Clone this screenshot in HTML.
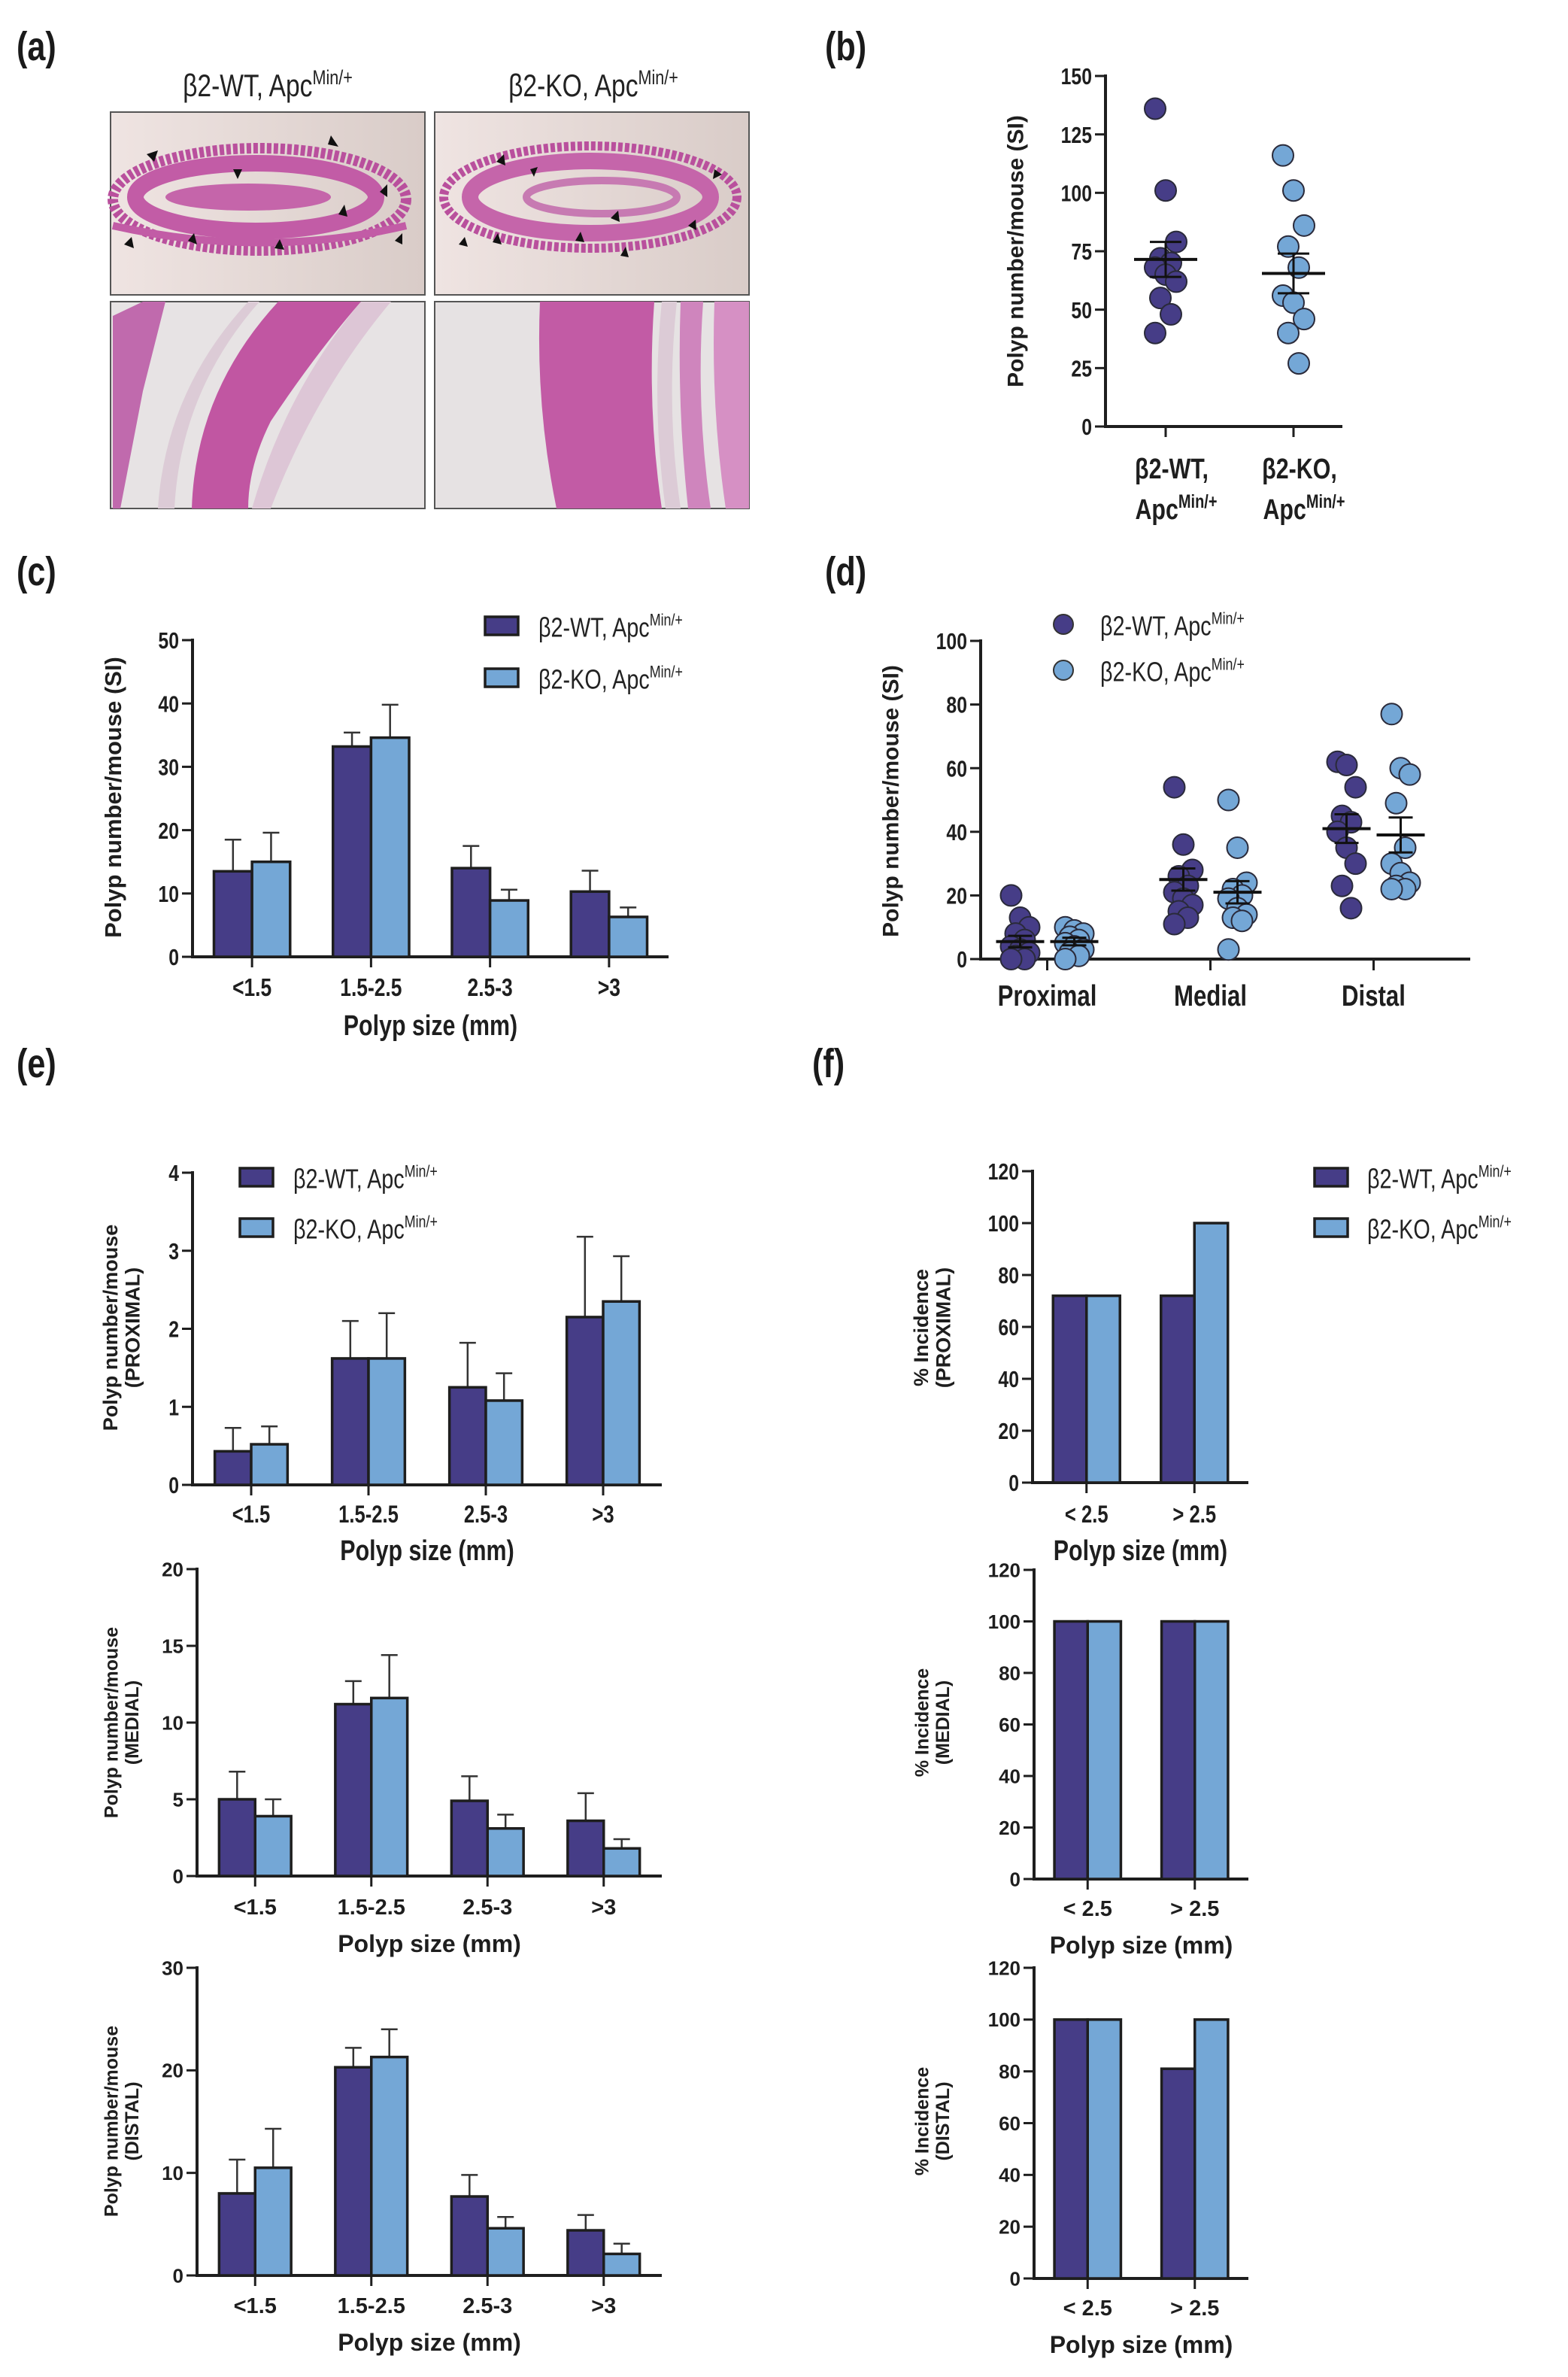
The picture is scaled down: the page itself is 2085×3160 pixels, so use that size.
<!DOCTYPE html>
<html><head><meta charset="utf-8"><title>Polyp figure</title>
<style>
html,body{margin:0;padding:0;background:#fff;}
svg{display:block;}
.n{font-family:"Liberation Sans Narrow","Liberation Sans",sans-serif;}
.w{font-family:"Liberation Sans",sans-serif;}
</style></head>
<body>
<svg id="fig" xmlns="http://www.w3.org/2000/svg" width="2085" height="3160" viewBox="0 0 2085 3160">
<defs>
<linearGradient id="bgTop" x1="0" y1="0" x2="1" y2="0"><stop offset="0" stop-color="#efe4e2"/><stop offset="1" stop-color="#d9ccc8"/></linearGradient>
</defs>
<g class="n" font-weight="bold" font-size="54" fill="#1a1a1a">
<text class="n" x="22" y="80">(a)</text>
<text class="n" x="1097" y="80">(b)</text>
<text class="n" x="22" y="778">(c)</text>
<text class="n" x="1097" y="778">(d)</text>
<text class="n" x="22" y="1432">(e)</text>
<text class="n" x="1080" y="1432">(f)</text>
</g>
<g>
<text class="n" x="356" y="128" font-size="42" text-anchor="middle" fill="#222">β2-WT, Apc<tspan dy="-16" font-size="27">Min/+</tspan></text>
<text class="n" x="789" y="128" font-size="42" text-anchor="middle" fill="#222">β2-KO, Apc<tspan dy="-16" font-size="27">Min/+</tspan></text>
<g>
<rect x="147" y="149" width="418" height="243" fill="url(#bgTop)" stroke="#555" stroke-width="2"/>
<ellipse cx="345" cy="265" rx="195" ry="68" fill="none" stroke="#b9509d" stroke-width="14" stroke-dasharray="6 3"/>
<ellipse cx="340" cy="262" rx="160" ry="45" fill="none" stroke="#c25ca6" stroke-width="22"/>
<ellipse cx="330" cy="262" rx="110" ry="18" fill="#c565aa"/>
<path d="M150 300 Q350 345 540 300" fill="none" stroke="#c25ca6" stroke-width="10"/>
<g fill="#111"><polygon points="195,205 210,200 205,215"/><polygon points="310,225 322,225 316,238"/><polygon points="440,180 450,195 436,192"/><polygon points="505,255 515,245 515,262"/><polygon points="450,285 458,272 462,288"/><polygon points="525,320 535,310 535,325"/><polygon points="165,325 175,315 178,330"/><polygon points="250,320 258,310 262,325"/><polygon points="365,330 372,318 378,332"/></g>
</g>
<g>
<rect x="578" y="149" width="418" height="243" fill="url(#bgTop)" stroke="#555" stroke-width="2"/>
<ellipse cx="785" cy="262" rx="195" ry="68" fill="none" stroke="#b9509d" stroke-width="12" stroke-dasharray="6 3"/>
<ellipse cx="785" cy="262" rx="160" ry="48" fill="none" stroke="#c565aa" stroke-width="22"/>
<ellipse cx="800" cy="262" rx="100" ry="22" fill="none" stroke="#c77ab2" stroke-width="10"/>
<g fill="#111"><polygon points="660,215 670,205 672,220"/><polygon points="705,225 715,222 710,235"/><polygon points="950,225 960,232 948,238"/><polygon points="812,290 822,280 824,295"/><polygon points="915,300 925,292 926,306"/><polygon points="610,325 618,315 622,328"/><polygon points="655,322 662,310 667,325"/><polygon points="765,320 772,308 777,322"/><polygon points="825,340 832,328 836,342"/></g>
</g>
<g>
<rect x="147" y="401" width="418" height="275" fill="#e7e3e4" stroke="#555" stroke-width="2"/>
<path d="M150 420 L190 401 L220 401 L190 520 L160 676 L150 676 Z" fill="#c06aad"/>
<path d="M255 676 Q260 520 370 401 L480 401 Q420 470 360 560 Q330 620 330 676 Z" fill="#c156a2"/>
<path d="M480 401 L520 401 Q420 520 360 676 L335 676 Q380 520 480 401 Z" fill="#ddc6d6"/>
<path d="M210 676 Q220 520 330 401 L345 401 Q240 520 232 676 Z" fill="#dccbd6"/>
</g>
<g>
<rect x="578" y="401" width="418" height="275" fill="#e6e2e3" stroke="#555" stroke-width="2"/>
<path d="M718 401 L870 401 Q860 540 880 676 L740 676 Q712 540 718 401 Z" fill="#c25ba5"/>
<path d="M880 401 L900 401 Q885 540 905 676 L885 676 Q866 540 880 401 Z" fill="#dccbd6"/>
<path d="M905 401 L935 401 Q925 540 945 676 L915 676 Q900 540 905 401 Z" fill="#cf85bd"/>
<path d="M950 401 L996 401 L996 676 L965 676 Q945 540 950 401 Z" fill="#d690c4"/>
</g>
</g>
<g id="charts"></g>
</svg>
<script>
// ---------- DATA ----------
var groupNames = ["β2-WT, Apc", "β2-KO, Apc"];
// (b)
var bWT = [136, 101, 79, 72, 70, 68, 65, 62, 55, 48, 40];
var bKO = [116, 101, 86, 77, 68, 56, 53, 46, 40, 27];
var bMean = [71.5, 65.5];
var bSem = [7.5, 8.5];
var bTicks = [0, 25, 50, 75, 100, 125, 150];
// (c)
var sizeCats = ["<1.5", "1.5-2.5", "2.5-3", ">3"];
var cWT = [13.5, 33.2, 14.0, 10.3];
var cWTerr = [5.0, 2.2, 3.5, 3.3];
var cKO = [15.0, 34.6, 8.9, 6.3];
var cKOerr = [4.6, 5.2, 1.7, 1.5];
var cTicks = [0, 10, 20, 30, 40, 50];
// (d)
var regionCats = ["Proximal", "Medial", "Distal"];
var dWTprox = [20, 13, 10, 8, 6, 4, 3, 2, 1, 0, 0];
var dWTmed = [54, 36, 28, 26, 23, 21, 19, 17, 15, 13, 11];
var dWTdist = [62, 61, 54, 45, 43, 40, 35, 30, 23, 16];
var dKOprox = [10, 9, 8, 7, 6, 5, 4, 3, 2, 1, 0];
var dKOmed = [50, 35, 24, 22, 20, 19, 16, 14, 13, 12, 3];
var dKOdist = [77, 60, 58, 49, 35, 30, 27, 24, 23, 22, 22];
var dWTmean = [5.5, 25, 41];
var dWTsem = [1.8, 3.5, 4.5];
var dKOmean = [5.5, 21, 39];
var dKOsem = [1.2, 3.5, 5.5];
var dTicks = [0, 20, 40, 60, 80, 100];
// (e)
var eProxWT = [0.43, 1.62, 1.25, 2.15];
var eProxWTerr = [0.30, 0.48, 0.57, 1.03];
var eProxKO = [0.52, 1.62, 1.08, 2.35];
var eProxKOerr = [0.23, 0.58, 0.35, 0.58];
var eProxTicks = [0, 1, 2, 3, 4];
var eMedWT = [5.0, 11.2, 4.9, 3.6];
var eMedWTerr = [1.8, 1.5, 1.6, 1.8];
var eMedKO = [3.9, 11.6, 3.1, 1.8];
var eMedKOerr = [1.1, 2.8, 0.9, 0.6];
var eMedTicks = [0, 5, 10, 15, 20];
var eDistWT = [8.0, 20.3, 7.7, 4.4];
var eDistWTerr = [3.3, 1.9, 2.1, 1.5];
var eDistKO = [10.5, 21.3, 4.6, 2.1];
var eDistKOerr = [3.8, 2.7, 1.1, 1.0];
var eDistTicks = [0, 10, 20, 30];
// (f)
var incCats = ["< 2.5", "> 2.5"];
var fProxWT = [72, 72];
var fProxKO = [72, 100];
var fMedWT = [100, 100];
var fMedKO = [100, 100];
var fDistWT = [100, 81];
var fDistKO = [100, 100];
var fTicks = [0, 20, 40, 60, 80, 100, 120];

// ---------- DRAW ----------
var NS = "http://www.w3.org/2000/svg";
var WT = "#463d87", KO = "#74a7d6", INK = "#1e1e1e";
var root = document.getElementById("charts");
function mk(tag, attrs, parent) {
  var e = document.createElementNS(NS, tag);
  for (var k in attrs) e.setAttribute(k, attrs[k]);
  (parent || root).appendChild(e);
  return e;
}
function linY(min, max, y0, y1) { return function (v) { return y0 + (v - min) / (max - min) * (y1 - y0); }; }

function axes(g, o, ticks, yS) {
  var yax = mk("line", {x1: o.x0, y1: yS(ticks[ticks.length - 1]) - 2, x2: o.x0, y2: yS(0), stroke: INK, "stroke-width": 4}, g);
  
  
  var xax = mk("line", {x1: o.x0 - 2, y1: yS(0), x2: o.x1, y2: yS(0), stroke: INK, "stroke-width": 4}, g);
  
  
  ticks.forEach(function (t) {
    var y = yS(t);
    mk("line", {x1: o.x0 - 14, y1: y, x2: o.x0, y2: y, stroke: INK, "stroke-width": 3}, g);
    var tl = mk("text", {x: o.x0 - 18, y: y + o.tf * 0.36, "text-anchor": "end", "font-size": o.tf, "font-weight": "bold", fill: INK, "class": o.fc}, g);
    
    
    tl.textContent = t;
  });
  var yl = mk("text", {"text-anchor": "middle", "font-size": o.lf, "font-weight": "bold", fill: INK, "class": "w",
    transform: "rotate(-90 " + o.ylx + " " + o.yly + ")", x: o.ylx, y: o.yly}, g);
  
  
  o.ylab.forEach(function (line, i) {
    var ts = mk("tspan", {x: o.ylx, dy: i === 0 ? (o.ylab.length > 1 ? -o.lf * 0.15 : o.lf * 0.35) : o.lf * 1.1}, yl);
    ts.textContent = line;
  });
}

function barChart(name, o, cats, wt, wtErr, ko, koErr, ticks) {
  var g = mk("g", {});
  
  
  var yS = linY(0, ticks[ticks.length - 1], o.yb, o.yt);
  var band = (o.x1 - o.x0) / cats.length;
  var bw = band * o.bwf;
  axes(g, o, ticks, yS);
  cats.forEach(function (c, i) {
    var cx = o.x0 + band * (i + 0.5);
    [[wt, wtErr, WT, cx - bw, 'bar-wt-'], [ko, koErr, KO, cx, 'bar-ko-']].forEach(function (s) {
      var v = s[0][i];
      if (s[1]) {
        var top = yS(v + s[1][i]);
        var bx = s[3] + bw / 2;
        var el = mk("line", {x1: bx, y1: yS(v), x2: bx, y2: top, stroke: "#333", "stroke-width": 2.5}, g);
        
        
        mk("line", {x1: bx - 11, y1: top, x2: bx + 11, y2: top, stroke: "#333", "stroke-width": 2.5}, g);
      }
      var r = mk("rect", {x: s[3], y: yS(v), width: bw, height: yS(0) - yS(v), fill: s[2], stroke: INK, "stroke-width": 3.5}, g);
      
      
    });
    mk("line", {x1: cx, y1: yS(0), x2: cx, y2: yS(0) + 14, stroke: INK, "stroke-width": 3}, g);
    var tl = mk("text", {x: cx, y: o.tly, "text-anchor": "middle", "font-size": o.xf, "font-weight": "bold", fill: INK, "class": o.fc}, g);
    
    
    tl.textContent = c;
  });
  var xt = mk("text", {x: (o.x0 + o.x1) / 2, y: o.tty, "text-anchor": "middle", "font-size": o.tt, "font-weight": "bold", fill: INK, "class": o.fc}, g);
  
  
  xt.textContent = "Polyp size (mm)";
  return g;
}

function legend(name, x, y1, y2, tx, fs, dots) {
  var g = mk("g", {});
  
  
  [[y1, WT], [y2, KO]].forEach(function (p, i) {
    var m;
    if (dots) m = mk("circle", {cx: x, cy: p[0], r: 13, fill: p[1], stroke: "#333", "stroke-width": 2}, g);
    else m = mk("rect", {x: x, y: p[0] - 12, width: 44, height: 24, fill: p[1], stroke: INK, "stroke-width": 3.5}, g);
    
    
    var t = mk("text", {x: tx, y: p[0] + fs * 0.4, "font-size": fs, fill: "#222", "class": "n"}, g);
    
    
    t.textContent = groupNames[i];
    var sp = mk("tspan", {dy: -fs * 0.42, "font-size": fs * 0.62}, t);
    sp.textContent = "Min/+";
  });
}

function scatterGroup(g, vals, cx, yS, col, spread) {
  vals.forEach(function (v, i) {
    var off = (((i * 7) % 5) - 2) * spread;
    var c = mk("circle", {cx: cx + off, cy: yS(v), r: 14, fill: col, stroke: "#2a2a3a", "stroke-width": 2}, g);
    
    
  });
}
function meanSem(g, cx, yS, m, s, hw) {
  var ml = mk("line", {x1: cx - hw, y1: yS(m), x2: cx + hw, y2: yS(m), stroke: "#111", "stroke-width": 4}, g);
  
  
  mk("line", {x1: cx, y1: yS(m - s), x2: cx, y2: yS(m + s), stroke: "#111", "stroke-width": 3}, g);
  mk("line", {x1: cx - hw / 2, y1: yS(m + s), x2: cx + hw / 2, y2: yS(m + s), stroke: "#111", "stroke-width": 3}, g);
  mk("line", {x1: cx - hw / 2, y1: yS(m - s), x2: cx + hw / 2, y2: yS(m - s), stroke: "#111", "stroke-width": 3}, g);
}

// (b)
(function () {
  var g = mk("g", {});
  
  
  var o = {x0: 1470, x1: 1785, tf: 31, fc: "n", lf: 30, ylx: 1350, yly: 334, ylab: ["Polyp number/mouse (SI)"]};
  var yS = linY(0, 150, 567, 101);
  axes(g, o, bTicks, yS);
  var xs = [1550, 1720];
  scatterGroup(g, bWT, xs[0], yS, WT, 7);
  scatterGroup(g, bKO, xs[1], yS, KO, 7);
  for (var i = 0; i < 2; i++) {
    meanSem(g, xs[i], yS, bMean[i], bSem[i], 42);
    mk("line", {x1: xs[i], y1: 567, x2: xs[i], y2: 581, stroke: INK, "stroke-width": 3}, g);
    var t = mk("text", {x: xs[i] + 8, y: 636, "text-anchor": "middle", "font-size": 38, "font-weight": "bold", fill: INK, "class": "n"}, g);
    
    
    t.textContent = i === 0 ? "β2-WT," : "β2-KO,";
    var t2 = mk("text", {x: xs[i] + 14, y: 690, "text-anchor": "middle", "font-size": 38, "font-weight": "bold", fill: INK, "class": "n"}, g);
    
    
    t2.textContent = "Apc";
    var s2 = mk("tspan", {dy: -15, "font-size": 25}, t2);
    s2.textContent = "Min/+";
  }
})();

// (c)
barChart("panel-c-bar-chart", {x0: 256, x1: 889, yb: 1272, yt: 851, bwf: 0.32, tf: 31, xf: 33, tt: 38, fc: "n", lf: 31,
  ylx: 150, yly: 1060, ylab: ["Polyp number/mouse (SI)"], tly: 1324, tty: 1376}, sizeCats, cWT, cWTerr, cKO, cKOerr, cTicks);
legend("panel-c-legend", 645, 832, 901, 716, 36, false);

// (d)
(function () {
  var g = mk("g", {});
  
  
  var o = {x0: 1304, x1: 1955, tf: 31, fc: "n", lf: 30, ylx: 1184, yly: 1065, ylab: ["Polyp number/mouse (SI)"]};
  var yS = linY(0, 100, 1275, 852);
  axes(g, o, dTicks, yS);
  var band = (o.x1 - o.x0) / 3;
  var wtSets = [dWTprox, dWTmed, dWTdist], koSets = [dKOprox, dKOmed, dKOdist];
  regionCats.forEach(function (c, i) {
    var cx = o.x0 + band * (i + 0.5) - 20;
    scatterGroup(g, wtSets[i], cx - 36, yS, WT, 6);
    scatterGroup(g, koSets[i], cx + 36, yS, KO, 6);
    meanSem(g, cx - 36, yS, dWTmean[i], dWTsem[i], 32);
    meanSem(g, cx + 36, yS, dKOmean[i], dKOsem[i], 32);
    mk("line", {x1: cx, y1: 1275, x2: cx, y2: 1290, stroke: INK, "stroke-width": 3}, g);
    var t = mk("text", {x: cx, y: 1337, "text-anchor": "middle", "font-size": 39, "font-weight": "bold", fill: INK, "class": "n"}, g);
    
    
    t.textContent = c;
  });
})();
legend("panel-d-legend", 1414, 830, 891, 1463, 36, true);

// (e)
barChart("panel-e-proximal-chart", {x0: 256, x1: 880, yb: 1974, yt: 1559, bwf: 0.31, tf: 31, xf: 32, tt: 38, fc: "n", lf: 27,
  ylx: 160, yly: 1765, ylab: ["Polyp number/mouse", "(PROXIMAL)"], tly: 2024, tty: 2074}, sizeCats, eProxWT, eProxWTerr, eProxKO, eProxKOerr, eProxTicks);
legend("panel-e-legend", 319, 1565, 1632, 390, 36, false);
barChart("panel-e-medial-chart", {x0: 262, x1: 880, yb: 2494, yt: 2086, bwf: 0.31, tf: 26, xf: 29, tt: 32, fc: "w", lf: 25,
  ylx: 160, yly: 2290, ylab: ["Polyp number/mouse", "(MEDIAL)"], tly: 2545, tty: 2595}, sizeCats, eMedWT, eMedWTerr, eMedKO, eMedKOerr, eMedTicks);
barChart("panel-e-distal-chart", {x0: 262, x1: 880, yb: 3025, yt: 2616, bwf: 0.31, tf: 26, xf: 29, tt: 32, fc: "w", lf: 25,
  ylx: 160, yly: 2820, ylab: ["Polyp number/mouse", "(DISTAL)"], tly: 3075, tty: 3125}, sizeCats, eDistWT, eDistWTerr, eDistKO, eDistKOerr, eDistTicks);

// (f)
barChart("panel-f-proximal-chart", {x0: 1373, x1: 1660, yb: 1971, yt: 1557, bwf: 0.31, tf: 31, xf: 32, tt: 38, fc: "n", lf: 27,
  ylx: 1238, yly: 1765, ylab: ["% Incidence", "(PROXIMAL)"], tly: 2024, tty: 2074}, incCats, fProxWT, null, fProxKO, null, fTicks);
legend("panel-f-legend", 1748, 1565, 1632, 1818, 36, false);
barChart("panel-f-medial-chart", {x0: 1375, x1: 1660, yb: 2498, yt: 2087, bwf: 0.31, tf: 26, xf: 29, tt: 32, fc: "w", lf: 25,
  ylx: 1238, yly: 2290, ylab: ["% Incidence", "(MEDIAL)"], tly: 2547, tty: 2597}, incCats, fMedWT, null, fMedKO, null, fTicks);
barChart("panel-f-distal-chart", {x0: 1375, x1: 1660, yb: 3029, yt: 2616, bwf: 0.31, tf: 26, xf: 29, tt: 32, fc: "w", lf: 25,
  ylx: 1238, yly: 2820, ylab: ["% Incidence", "(DISTAL)"], tly: 3078, tty: 3128}, incCats, fDistWT, null, fDistKO, null, fTicks);

// condense "narrow" text horizontally (narrow font may be unavailable)
Array.prototype.forEach.call(document.querySelectorAll("text.n"), function (t) {
  if (t.getAttribute("transform")) return;
  var x = parseFloat(t.getAttribute("x"));
  t.setAttribute("transform", "translate(" + x + " 0) scale(0.8 1) translate(" + (-x) + " 0)");
});
</script>
</body></html>
